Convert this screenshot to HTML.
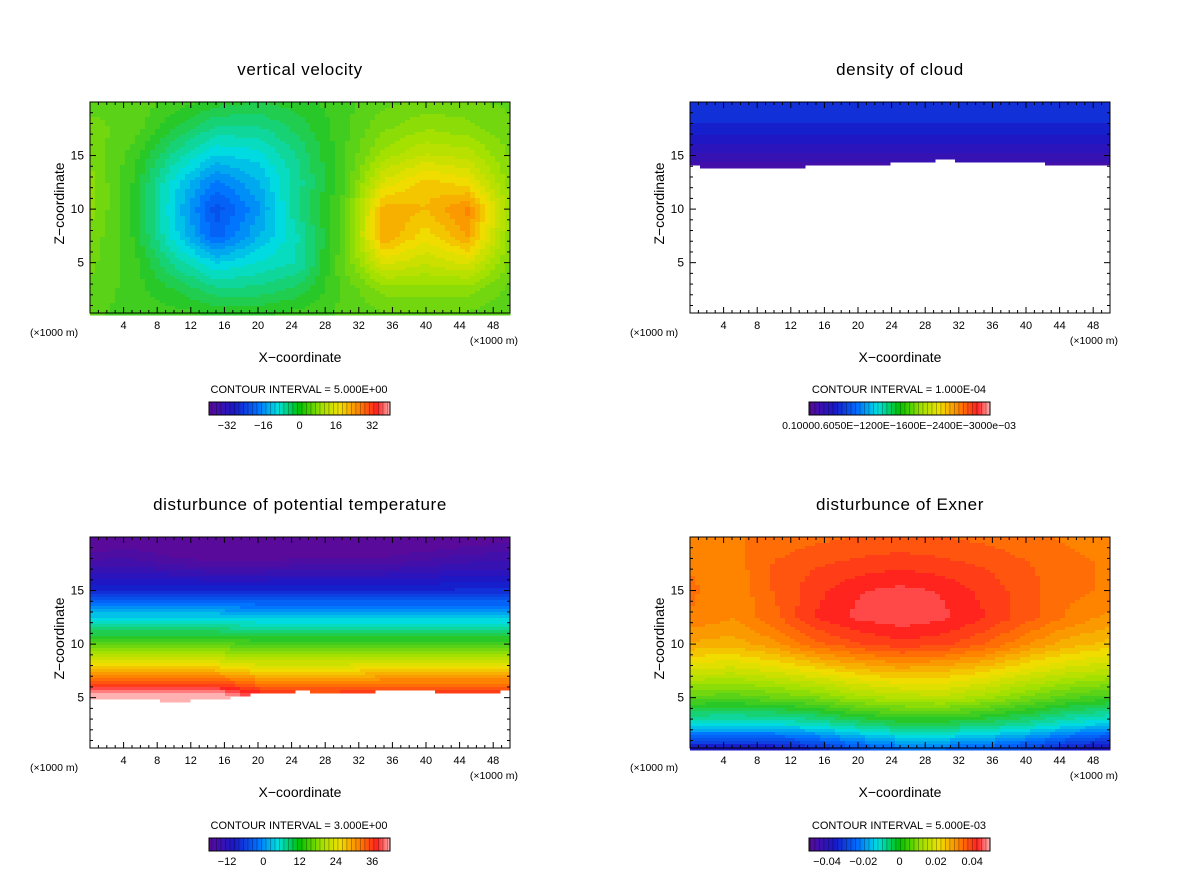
<!DOCTYPE html>
<html><head><meta charset="utf-8">
<style>
body{margin:0;background:#fff;}
svg text{font-family:"Liberation Sans",sans-serif;fill:#000;}
</style></head>
<body>
<svg id="fig" width="1200" height="868" viewBox="0 0 1200 868" xmlns="http://www.w3.org/2000/svg">
<defs>
<linearGradient id="cbg" x1="0" x2="1" y1="0" y2="0">
<stop offset="0" stop-color="#5a0a9a"/><stop offset="0.14" stop-color="#1818c8"/><stop offset="0.27" stop-color="#0070ff"/>
<stop offset="0.38" stop-color="#00e0e0"/><stop offset="0.5" stop-color="#00c000"/><stop offset="0.62" stop-color="#a0e000"/>
<stop offset="0.72" stop-color="#f0e000"/><stop offset="0.83" stop-color="#ff8000"/><stop offset="0.93" stop-color="#ff2020"/><stop offset="1" stop-color="#ffb0b0"/>
</linearGradient>
<pattern id="stripes" width="4.5" height="20" patternUnits="userSpaceOnUse"><rect x="0" y="0" width="0.8" height="20" fill="#000" opacity="0.35"/></pattern>
</defs>
</svg>
<script>
// ---- data: grids rows from z=20 (top) down to z=0, columns x=0,5,...,50 ----
const xCols=[0,5,10,15,20,25,30,35,40,45,50];
const zRows=[20,17.5,15,12.5,10,7.5,5,2.5,0];
const velocity=[
[4,4,2,0,-1,0,2,4,5,5,4],
[5,4,-1,-5,-5,-2,2,6,8,7,5],
[6,2,-5,-10,-9,-4,2,9,12,11,6],
[7,1,-9,-16,-12,-5,2,14,18,16,7],
[7,1,-10,-20,-14,-4,3,20,19,23,9],
[6,1,-9,-18,-12,-6,3,21,16,21,7],
[5,2,-5,-10,-8,-6,4,14,12,14,6],
[4,2,-1,-4,-4,-2,3,7,7,7,4],
[3,2,2,1,1,2,3,4,4,4,3]];
const cloud=[
[6e-4,6e-4,6e-4,6e-4,6e-4,6e-4,6e-4,6e-4,6e-4,6e-4,6e-4],
[5e-4,5e-4,5e-4,5e-4,5e-4,5e-4,5e-4,5e-4,5e-4,5e-4,5e-4],
[2.5e-4,2.5e-4,2.5e-4,2.5e-4,2.5e-4,2.5e-4,2.5e-4,2.5e-4,2.5e-4,2.5e-4,2.5e-4],
[0,0,0,0,0,0,0,0,0,0,0],[0,0,0,0,0,0,0,0,0,0,0],[0,0,0,0,0,0,0,0,0,0,0],[0,0,0,0,0,0,0,0,0,0,0],[0,0,0,0,0,0,0,0,0,0,0],[0,0,0,0,0,0,0,0,0,0,0]];
const cloudBottom=[14,13.9,13.9,14,14.1,14.3,14.6,14.4,14.3,14.2,14.0];
const theta=[
[-20,-19,-21,-22,-22,-22,-22,-21,-20,-19,-18],
[-15,-15,-16,-17,-17,-16,-16,-16,-15,-14,-14],
[-8,-8,-8,-8,-8,-8,-8,-8,-8,-8,-8],
[4,4,4,4,3,3,3,3,3,3,3],
[15,15,15,15,14,14,14,14,14,14,14],
[28,28,28,28,26,26,26,27,27,27,27],
[44,44,44,44,40,38,38,39,39,39,39],
[48,48,48,48,48,48,48,48,48,48,48],
[48,48,48,48,48,48,48,48,48,48,48]];
const thetaBottom=[4.8,4.8,4.7,4.8,5.4,5.6,5.5,5.6,5.6,5.5,5.6];
const exner=[
[.032,.033,.034,.035,.036,.036,.036,.035,.034,.033,.032],
[.033,.032,.036,.038,.039,.040,.039,.038,.036,.034,.033],
[.034,.031,.036,.040,.043,.044,.043,.040,.037,.034,.033],
[.033,.031,.035,.041,.044,.045,.044,.041,.037,.033,.030],
[.028,.027,.030,.035,.038,.040,.039,.036,.031,.027,.025],
[.018,.017,.019,.022,.025,.027,.026,.024,.020,.017,.015],
[.005,.004,.006,.008,.012,.014,.015,.012,.008,.004,.002],
[-.012,-.012,-.012,-.010,-.006,-.003,-.003,-.005,-.008,-.012,-.015],
[-.040,-.040,-.040,-.036,-.030,-.026,-.026,-.028,-.032,-.038,-.042]];
const xTicks=[4,8,12,16,20,24,28,32,36,40,44,48];
const yTicks=[5,10,15];
const titles=["vertical velocity","density of cloud","disturbunce of potential temperature","disturbunce of Exner"];
const intervals=["CONTOUR INTERVAL = 5.000E+00","CONTOUR INTERVAL = 1.000E-04","CONTOUR INTERVAL = 3.000E+00","CONTOUR INTERVAL = 5.000E-03"];
const cbLabels=[["-32","-16","0","16","32"],["0.10000.6050E-1200E-1600E-2400E-3000e-03"],["-12","0","12","24","36"],["-0.04","-0.02","0","0.02","0.04"]];

const NS="http://www.w3.org/2000/svg";
const svg=document.getElementById('fig');
function mk(tag,attrs,parent){const e=document.createElementNS(NS,tag);for(const k in attrs)e.setAttribute(k,attrs[k]);(parent||svg).appendChild(e);return e;}
const stops=[[0,[90,10,154]],[0.14,[24,24,200]],[0.27,[0,112,255]],[0.38,[0,224,224]],[0.5,[40,200,40]],[0.62,[160,224,0]],[0.72,[240,224,0]],[0.83,[255,128,0]],[0.93,[255,32,32]],[1,[255,176,176]]];
function cmap(t){t=Math.max(0,Math.min(1,t));t=Math.round(t*40)/40;for(let i=1;i<stops.length;i++){if(t<=stops[i][0]){const a=stops[i-1],b=stops[i],f=(t-a[0])/(b[0]-a[0]);return 'rgb('+a[1].map((c,j)=>Math.round(c+(b[1][j]-c)*f)).join(',')+')';}}return 'rgb(255,176,176)';}
function interp(g,x,z){const fx=Math.min(9.999,x/5),fz=Math.min(7.999,(20-z)/2.5);const i=Math.floor(fx),j=Math.floor(fz),a=fx-i,b=fz-j;
return g[j][i]*(1-a)*(1-b)+g[j][i+1]*a*(1-b)+g[j+1][i]*(1-a)*b+g[j+1][i+1]*a*b;}
function interpArr(arr,x){const f=Math.min(9.999,x/5),i=Math.floor(f),a=f-i;return arr[i]*(1-a)+arr[i+1]*a;}

const panels=[
{X:90,Y:102,grid:velocity,lo:-36,hi:36,bottom:null,cbx:209,cby:402},
{X:690,Y:102,grid:cloud,lo:0,hi:3.2e-3,bottom:cloudBottom,cbx:809,cby:402},
{X:90,Y:537,grid:theta,lo:-18,hi:42,bottom:thetaBottom,cbx:209,cby:838},
{X:690,Y:537,grid:exner,lo:-0.05,hi:0.0495,bottom:null,cbx:809,cby:838}];
const W=420,H=211;
panels.forEach((p,k)=>{
  const sx=v=>p.X+v/50*W, sz=v=>p.Y+H-(v-0.3)/19.7*H;
  const g=mk('g',{});
  
  
  const t=mk('text',{x:p.X+210,y:p.Y-27,'text-anchor':'middle','font-size':17,'letter-spacing':'0.6'},g);t.textContent=titles[k];
  
  const field=mk('g',{},g);
  
  const cw=5,ch=3;
  for(let px=0;px<W;px+=cw){for(let py=0;py<H;py+=ch){
    const xv=(px+cw/2)/W*50, zv=0.3+(H-py-ch/2)/H*19.7;
    if(p.bottom && zv<interpArr(p.bottom,xv)) continue;
    const v=interp(p.grid,xv,zv);
    const c=mk('rect',{x:p.X+px,y:p.Y+py,width:cw+0.5,height:ch+0.5,fill:cmap((v-p.lo)/(p.hi-p.lo))},field);
    
    
  }}
  const fr=mk('rect',{x:p.X,y:p.Y,width:W,height:H,fill:'none',stroke:'#000','stroke-width':1},g);
  
  for(let v=1;v<50;v++){const major=xTicks.includes(v);const L=major?6:3;
    mk('line',{x1:sx(v),x2:sx(v),y1:p.Y+H,y2:p.Y+H-L,stroke:'#000'},g);
    mk('line',{x1:sx(v),x2:sx(v),y1:p.Y,y2:p.Y+L,stroke:'#000'},g);}
  xTicks.forEach(v=>{const e=mk('text',{x:sx(v),y:p.Y+H+16,'text-anchor':'middle','font-size':11},g);e.textContent=v;
    });
  for(let v=1;v<20;v++){const major=yTicks.includes(v);const L=major?6:3;
    mk('line',{x1:p.X,x2:p.X+L,y1:sz(v),y2:sz(v),stroke:'#000'},g);
    mk('line',{x1:p.X+W,x2:p.X+W-L,y1:sz(v),y2:sz(v),stroke:'#000'},g);}
  yTicks.forEach(v=>{const e=mk('text',{x:p.X-6,y:sz(v)+4,'text-anchor':'end','font-size':12},g);e.textContent=v;
    });
  const u1=mk('text',{x:p.X-60,y:p.Y+H+23,'font-size':10.5},g);u1.textContent='(\u00d71000 m)';
  
  const u2=mk('text',{x:p.X+W+8,y:p.Y+H+31,'text-anchor':'end','font-size':10.5},g);u2.textContent='(\u00d71000 m)';
  
  const xt=mk('text',{x:p.X+210,y:p.Y+H+49,'text-anchor':'middle','font-size':14},g);xt.textContent='X\u2212coordinate';
  
  const yt=mk('text',{x:0,y:0,'text-anchor':'middle','font-size':14,transform:'translate('+(p.X-26)+','+(p.Y+H/2-4)+') rotate(-90)'},g);yt.textContent='Z\u2212coordinate';
  
  const ci=mk('text',{x:p.cbx+90,y:p.cby-9,'text-anchor':'middle','font-size':11},g);ci.textContent=intervals[k];
  
  const cb=mk('rect',{x:p.cbx,y:p.cby,width:181,height:13,fill:'url(#cbg)',stroke:'#000'},g);
  
  mk('rect',{x:p.cbx,y:p.cby,width:181,height:13,fill:'url(#stripes)'},g);
  const labs=cbLabels[k];
  labs.forEach((s,i)=>{const xx=labs.length===1?p.cbx+90:p.cbx+18+i*36.3;
    const e=mk('text',{x:xx,y:p.cby+27,'text-anchor':'middle','font-size':labs.length===1?10.5:11},g);e.textContent=s.replace(/-/g,'\u2212');
    });
});
</script>
</body></html>
